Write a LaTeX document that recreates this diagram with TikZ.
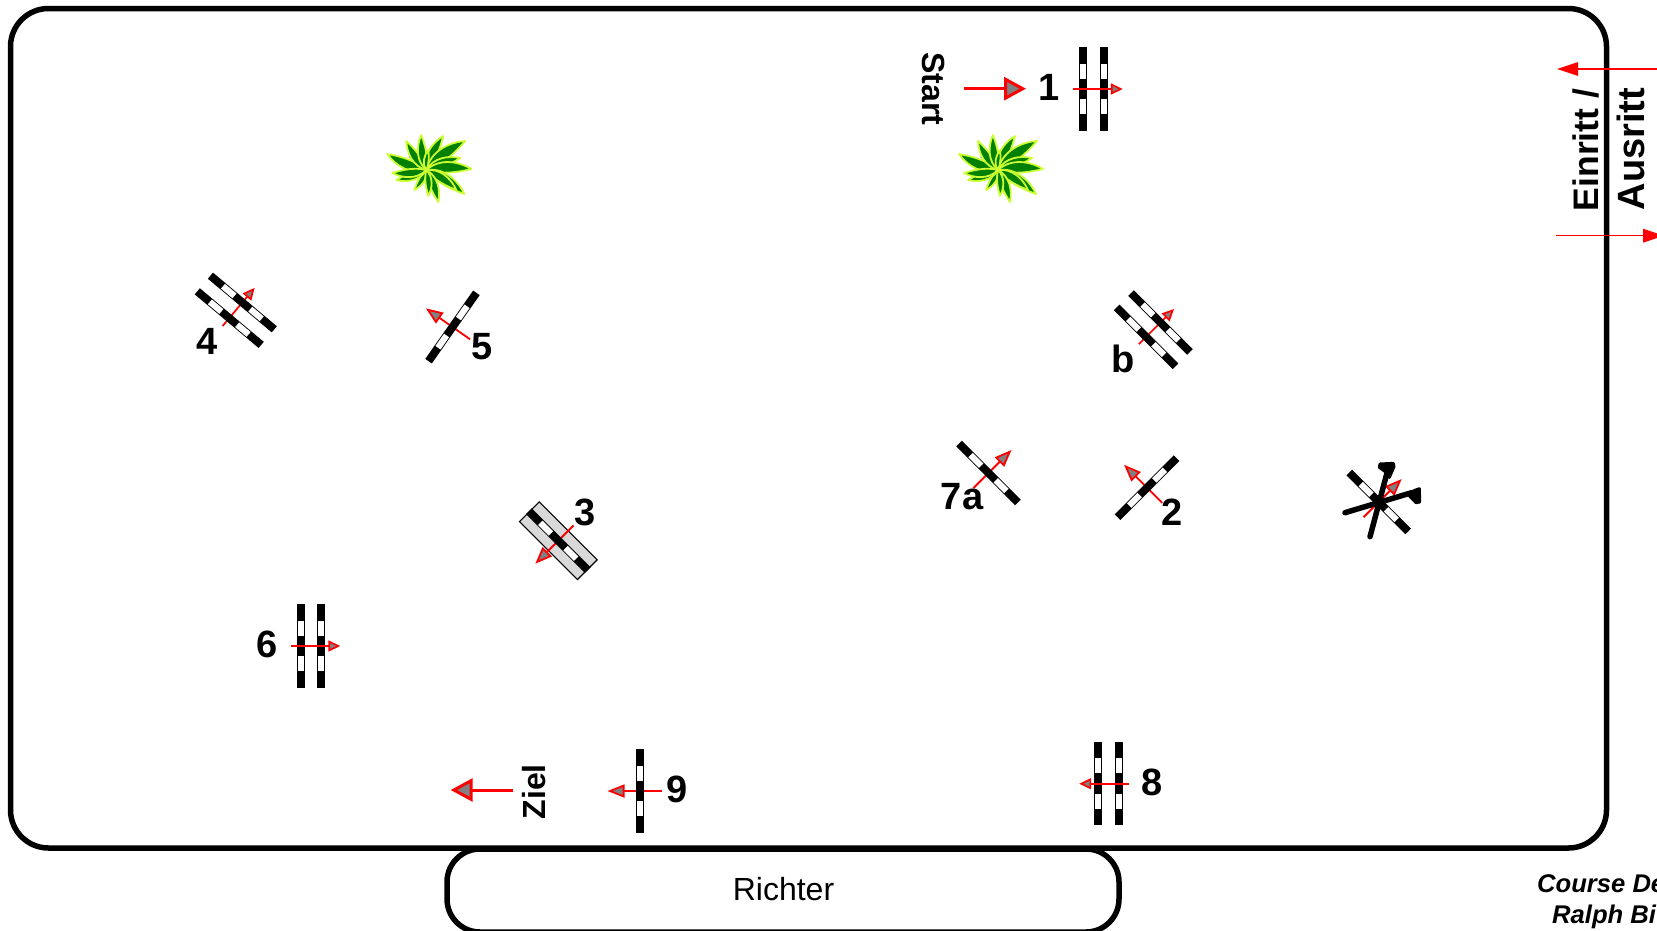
\documentclass[tikz,border=0pt]{standalone}
\usepackage{fontspec}
\setmainfont{Liberation Sans}
\usetikzlibrary{arrows.meta}
\definecolor{headgray}{RGB}{128,128,128}
\definecolor{leafgreen}{RGB}{0,128,0}
\definecolor{leafedge}{RGB}{204,255,51}
\definecolor{leafpink}{RGB}{205,150,150}
\definecolor{wallgray}{RGB}{217,217,217}
\newcommand{\railat}[1]{%
  \fill[black] (#1-4,-41.7) rectangle (#1+4,41.7);
  \fill[white] (#1-3.1,-25.3) rectangle (#1+3.1,-10.3);
  \fill[white] (#1-3.1,10.3) rectangle (#1+3.1,25.3);
}
\tikzset{
  x=1pt,y=-1pt,
  numlabel/.style={inner sep=0pt,font=\bfseries\fontsize{38}{38}\selectfont},
  smalltitle/.style={inner sep=0pt,font=\bfseries\fontsize{32}{32}\selectfont},
  gatetitle/.style={inner sep=0pt,rotate=90,font=\bfseries\fontsize{36}{36}\selectfont},
  creditlabel/.style={inner sep=0pt,anchor=base west,font=\bfseries\itshape\fontsize{25.6}{25.6}\selectfont},
  jumparrow/.style={draw=red,line width=1.8pt,-{Triangle[length=17pt,width=13pt,fill=headgray,color=red,line width=1.8pt]}},
  oxerarrow/.style={draw=red,line width=1.7pt,-{Triangle[length=12pt,width=11pt,fill=headgray,color=red,line width=1.7pt]}},
  bigarrow/.style={draw=red,line width=3pt,-{Triangle[length=22pt,width=23pt,fill=headgray,color=red,line width=3pt]}},
  gatearrow/.style={draw=red,line width=1.1pt,-{Triangle[length=21pt,width=14pt,fill=red,color=red,line width=0pt]}},
  leaf/.style={fill=leafgreen,draw=leafedge,line width=1.8pt,line join=round},
  club/.style={black,line width=5.5pt,line cap=round},
  clubhead/.style={fill=black,draw=black,line width=3pt,line join=round},
  pics/rail/.style={code={\railat{0}}},
  pics/tworails/.style={code={\railat{-10.2}\railat{10.2}}},
  pics/singlearrow/.style={code={
    \coordinate (-from) at (-21.5,0);
    \coordinate (-to) at (32.5,0);
    \draw[jumparrow] (-from) -- (-to);
  }},
  pics/twoarrow/.style={code={
    \coordinate (-from) at (-20.5,0);
    \coordinate (-to) at (29.3,0);
    \draw[oxerarrow] (-from) -- (-to);
  }},
  pics/plant/.style={code={
    \foreach \dx/\dy in {17/-7,17/9,-17/-14,-16/6}{
      \draw[leafpink,line width=3pt] (0,0) -- (\dx,\dy);
    }
    \foreach \dx/\dy in {-39/-16,-20/-29,-5/-35,17/-34,39/-29,34/-12,45/-1,38/24,30/20,12/32,-12/20,-30/10,-34/3,2/26,2/-20}{
      \pgfmathsetmacro\ang{atan2(-\dy,\dx)}
      \pgfmathsetmacro\len{sqrt(\dx*\dx+\dy*\dy)}
      \begin{scope}[rotate=\ang]
        \draw[leaf] (0,0) .. controls (.3*\len,-.26*\len) and (.72*\len,-.18*\len) .. (\len,0)
                    .. controls (.72*\len,.06*\len) and (.35*\len,.12*\len) .. (0,0) -- cycle;
      \end{scope}
    }
  }},
}
\begin{document}
\begin{tikzpicture}
\useasboundingbox (0,0) rectangle (1657,930);
\clip (0,0) rectangle (1657,930);
\fill[white] (0,0) rectangle (1657,930);

% arena and judge box
\draw[line width=5.5pt,rounded corners=38pt] (10.5,8.5) rectangle (1606.5,848);
\draw[line width=5.5pt,rounded corners=33pt] (447,849) rectangle (1119,932);
\node[inner sep=0pt,font=\fontsize{32}{32}\selectfont] (richter) at (783.5,888.7) {Richter};

% gate
\coordinate (inA) at (1657,69);
\coordinate (inB) at (1557,69);
\coordinate (outA) at (1556,235.7);
\coordinate (outB) at (1664,235.7);
\draw[gatearrow] (inA) -- (inB);
\draw[gatearrow] (outA) -- (outB);
\node[gatetitle,font=\bfseries\fontsize{35.5}{35.5}\selectfont] (einritt) at (1586,150) {Einritt /};
\node[gatetitle,font=\bfseries\fontsize{38}{38}\selectfont] (ausritt) at (1631,149) {Ausritt};

% credit
\node[creditlabel] (credit1) at (1537,892) {Course De};
\node[creditlabel] (credit2) at (1552,923) {Ralph Bi};

% start and finish
\node[smalltitle,rotate=-90] (start) at (934,89) {Start};
\coordinate (startA) at (964,88.7);
\coordinate (startB) at (1026,88.7);
\draw[bigarrow] (startA) -- (startB);
\node[smalltitle,rotate=90] (ziel) at (534,791.7) {Ziel};
\coordinate (zielA) at (513.3,790);
\coordinate (zielB) at (450.7,790);
\draw[bigarrow] (zielA) -- (zielB);

% plants
\pic at (998,170) {plant};
\pic at (426.3,170) {plant};

% 1
\pic at (1093.5,89) {tworails};
\pic at (1093.5,89) {twoarrow};
\node[numlabel] (n1) at (1049,87) {1};
% 2
\pic[rotate=135] at (1147,487.7) {singlearrow};
\pic[rotate=135] at (1147,487.7) {rail};
\node[numlabel] (n2) at (1172,512) {2};
% 3
\begin{scope}[shift={(558.3,540.7)},rotate=225]
  \draw[fill=wallgray,line width=1.1pt] (-14,-41) rectangle (14,41);
\end{scope}
\pic[rotate=225] at (558.3,540.7) {singlearrow};
\pic[rotate=225] at (558.3,540.7) {rail};
\node[numlabel] (n3) at (585.5,512) {3};
% 4
\pic[rotate=50] at (235.8,310.3) {twoarrow};
\pic[rotate=50] at (235.8,310.3) {tworails};
\node[numlabel] (n4) at (207.5,341.7) {4};
% 5
\pic[rotate=145] at (452.5,327) {singlearrow};
\pic[rotate=145] at (452.5,327) {rail};
\node[numlabel] (n5) at (482.5,346.7) {5};
% 6
\pic at (311,646) {tworails};
\pic at (311,646) {twoarrow};
\node[numlabel] (n6) at (267.5,644.3) {6};
% 7a
\pic[rotate=45] at (988.5,473) {singlearrow};
\pic[rotate=45] at (988.5,473) {rail};
\node[numlabel] (n7a) at (962,497) {7a};
% b
\pic[rotate=45] at (1153.3,329.7) {twoarrow};
\pic[rotate=45] at (1153.3,329.7) {tworails};
\node[numlabel] (nb) at (1123,359) {b};
% 8
\pic at (1108.5,783.7) {tworails};
\pic[rotate=180] at (1108.5,783.7) {twoarrow};
\node[numlabel] (n8) at (1151.7,782) {8};
% 9
\pic[rotate=180] at (640,791) {singlearrow};
\pic at (640,791) {rail};
\node[numlabel] (n9) at (677.5,789) {9};

% crossed-out jump
\pic[rotate=45] at (1378.7,502) {singlearrow};
\pic[rotate=45] at (1378.7,502) {rail};
\begin{scope}[shift={(1310,440)},x=1pt/3,y=-1pt/3]
  \draw[club] (180,290) -- (232,95);
  \filldraw[clubhead] (210,72) -- (250,70) -- (252,80) -- (238,112) -- (226,95) -- (208,82) -- cycle;
  \draw[club] (105,218) -- (305,158);
  \filldraw[clubhead] (328,146) -- (329,186) -- (318,188) -- (296,165) -- (312,152) -- cycle;
\end{scope}
\end{tikzpicture}
\end{document}
